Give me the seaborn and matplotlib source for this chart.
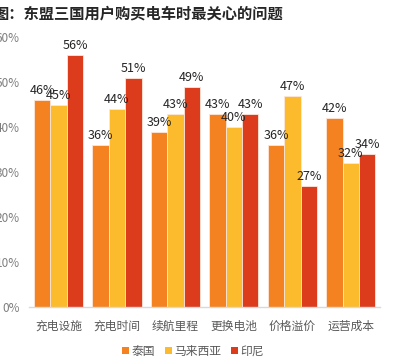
import pandas as pd
import matplotlib.pyplot as plt
import seaborn as sns

# ----------------------------------------------------------
# Data (percent of respondents)
# ----------------------------------------------------------

categories = ["充电设施", "充电时间", "续航里程", "更换电池", "价格溢价", "运营成本"]
countries = ["泰国", "马来西亚", "印尼"]

thailand = [46, 36, 39, 43, 36, 42]
malaysia = [45, 44, 43, 40, 47, 32]
indonesia = [56, 51, 49, 43, 27, 34]

colors = ["#F58220", "#FBBB2C", "#DC3C1C"]

df = pd.DataFrame({
    "问题": categories * 3,
    "国家": [countries[0]] * 6 + [countries[1]] * 6 + [countries[2]] * 6,
    "占比": thailand + malaysia + indonesia,
})

# ----------------------------------------------------------
# Plot
# ----------------------------------------------------------

sns.set_style("white")
plt.rcParams["font.family"] = ["Noto Sans CJK SC", "DejaVu Sans"]

fig = plt.figure(figsize=(4.05, 3.62), dpi=100)
ax = fig.add_axes([29.3 / 405, 1 - 307 / 362, 350.7 / 405, 270 / 362])

sns.barplot(
    data=df,
    x="问题",
    y="占比",
    hue="国家",
    palette=colors,
    saturation=1,
    width=0.84,
    gap=0,
    edgecolor="#fde6da",
    linewidth=0.6,
    ax=ax,
)

for container in ax.containers:
    ax.bar_label(
        container,
        labels=[f"{v:.0f}%" for v in container.datavalues],
        padding=2,
        fontsize=9,
        color="#262626",
    )

ax.set_xlim(-0.5, 5.5)
ax.set_ylim(0, 60)
ax.set_yticks(range(0, 61, 10))
ax.set_yticklabels([f"{v}%" for v in range(0, 61, 10)])
ax.set_xlabel("")
ax.set_ylabel("")

ax.tick_params(axis="y", length=0, pad=7, labelsize=8.5, labelcolor="#7f7f7f")
ax.tick_params(axis="x", length=0, pad=9, labelsize=8.5, labelcolor="#595959")

for side in ["top", "right", "left"]:
    ax.spines[side].set_visible(False)
ax.spines["bottom"].set_color("#d9d9d9")
ax.spines["bottom"].set_linewidth(1)

sns.move_legend(
    ax,
    "center",
    bbox_to_anchor=(193 / 405, 1 - 351 / 362),
    bbox_transform=fig.transFigure,
    ncol=3,
    frameon=False,
    title=None,
    fontsize=8.5,
    handlelength=0.6,
    handleheight=0.6,
    handletextpad=0.2,
    columnspacing=0.8,
    labelcolor="#595959",
)
for h in ax.get_legend().legend_handles:
    h.set_linewidth(0)

fig.text(
    -6 / 405,
    1 - 13 / 362,
    "图：东盟三国用户购买电车时最关心的问题",
    ha="left",
    va="center",
    fontsize=11,
    fontweight="bold",
    color="#262626",
)

fig.savefig("out.png", dpi=100)
plt.close()
